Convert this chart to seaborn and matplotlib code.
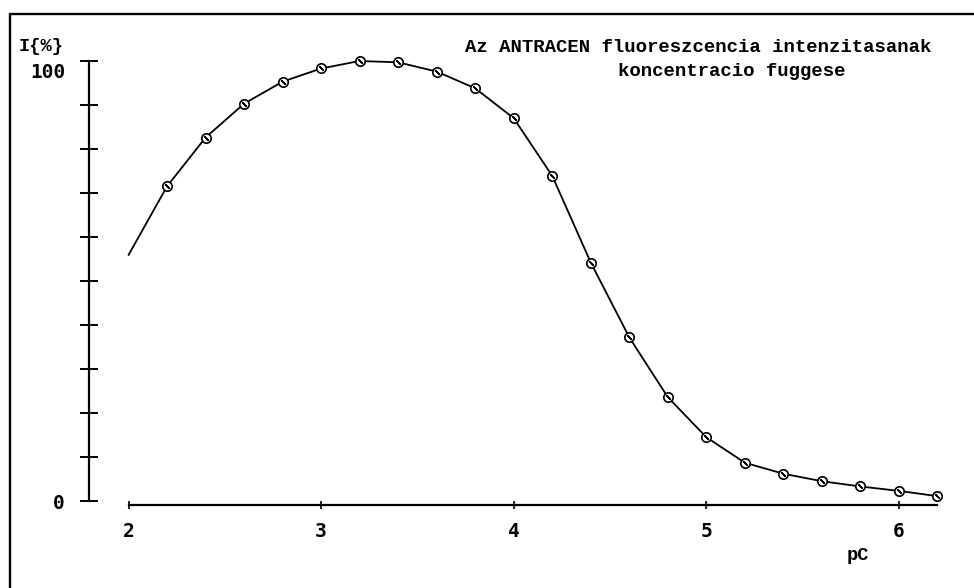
import matplotlib
matplotlib.use("Agg")
import matplotlib.pyplot as plt
from matplotlib.lines import Line2D
from matplotlib.transforms import ScaledTranslation
import seaborn as sns
import pandas as pd

# pC values and relative fluorescence intensity (%)
pc = [2.0, 2.2, 2.4, 2.6, 2.8, 3.0, 3.2, 3.4, 3.6, 3.8, 4.0,
      4.2, 4.4, 4.6, 4.8, 5.0, 5.2, 5.4, 5.6, 5.8, 6.0, 6.2]
intensity = [55.9, 71.5, 82.6, 90.3, 95.3, 98.3, 100.0, 99.7, 97.6, 93.8, 87.0,
             73.9, 54.2, 37.2, 23.6, 14.5, 8.7, 6.2, 4.5, 3.3, 2.3, 1.1]
# measured points carry a marker; the first value only starts the curve
marked_from = 1

x_ticks = [2, 3, 4, 5, 6]
x_tick_labels = ["2", "3", "4", "5", "6"]
y_ticks = [0, 10, 20, 30, 40, 50, 60, 70, 80, 90, 100]
y_tick_labels = ["0", "", "", "", "", "", "", "", "", "", "100"]

title_line1 = "Az ANTRACEN fluoreszcencia intenzitasanak"
title_line2 = "koncentracio fuggese"
y_name = "I{%}"
x_name = "pC"

df = pd.DataFrame({"pC": pc, "I": intensity})
df_marked = df.iloc[marked_from:]

sns.set_theme(style="white")
mono = ["Liberation Mono", "DejaVu Sans Mono"]
num_font = ["DejaVu Sans Mono", "DejaVu Sans"]

W, H = 974, 588
fig = plt.figure(figsize=(W / 100, H / 100), dpi=100)
fig.patch.set_facecolor("white")

def fx(px):
    return px / W

def fy(py):
    return 1 - py / H

ax = fig.add_axes([fx(89), fy(505), fx(950) - fx(89), fy(61) - fy(505)])
ax.set_facecolor("white")

sns.lineplot(data=df, x="pC", y="I", ax=ax, color="black", linewidth=1.3,
             estimator=None, sort=False, clip_on=False)
sns.scatterplot(data=df_marked, x="pC", y="I", ax=ax, marker="o", s=46,
                facecolor="white", edgecolor="black", linewidth=1.2,
                zorder=3, clip_on=False)
sns.scatterplot(data=df_marked, x="pC", y="I", ax=ax, marker=(2, 2, 45), s=16,
                color="black", linewidth=1.0, zorder=4, clip_on=False)

ax.set_xlim(1.7949, 6.2653)
ax.set_ylim(-0.909, 100)
ax.set_xlabel("")
ax.set_ylabel("")

for side in ("top", "right"):
    ax.spines[side].set_visible(False)
for side in ("left", "bottom"):
    ax.spines[side].set_color("black")
    ax.spines[side].set_linewidth(1.6)
ax.spines["left"].set_bounds(0, 100)
ax.spines["bottom"].set_bounds(2, 6.2)

ax.set_xticks(x_ticks)
ax.set_xticklabels(x_tick_labels, family=num_font, fontweight="bold", fontsize=14)
ax.set_yticks(y_ticks)
ax.set_yticklabels(y_tick_labels, family=num_font, fontweight="bold", fontsize=14)
ax.tick_params(axis="x", direction="inout", length=6, width=1.2, pad=9,
               color="black", labelcolor="black", bottom=True)
ax.tick_params(axis="y", direction="inout", length=12.5, width=1.4, pad=11,
               color="black", labelcolor="black", left=True)

# the top value label sits a little under its tick
for lab in ax.get_yticklabels():
    if lab.get_text() == "100":
        lab.set_transform(lab.get_transform() + ScaledTranslation(0, -0.10, fig.dpi_scale_trans))

fig.text(fx(465), fy(52), title_line1, family=mono, fontweight="bold",
         fontsize=13.7, ha="left", va="baseline", color="black")
fig.text(fx(618), fy(76), title_line2, family=mono, fontweight="bold",
         fontsize=13.7, ha="left", va="baseline", color="black")
fig.text(fx(19), fy(51), y_name, family=mono, fontweight="bold",
         fontsize=13.5, ha="left", va="baseline", color="black")
fig.text(fx(847), fy(560), x_name, family=mono, fontweight="bold",
         fontsize=13.5, ha="left", va="baseline", color="black")

# outer frame of the printed sheet
fig.add_artist(Line2D([fx(10), fx(10)], [fy(14), 0], transform=fig.transFigure,
                      color="black", linewidth=1.7))
fig.add_artist(Line2D([fx(10), 1], [fy(14), fy(14)], transform=fig.transFigure,
                      color="black", linewidth=1.7))

fig.savefig("out.png", dpi=100, facecolor="white")
